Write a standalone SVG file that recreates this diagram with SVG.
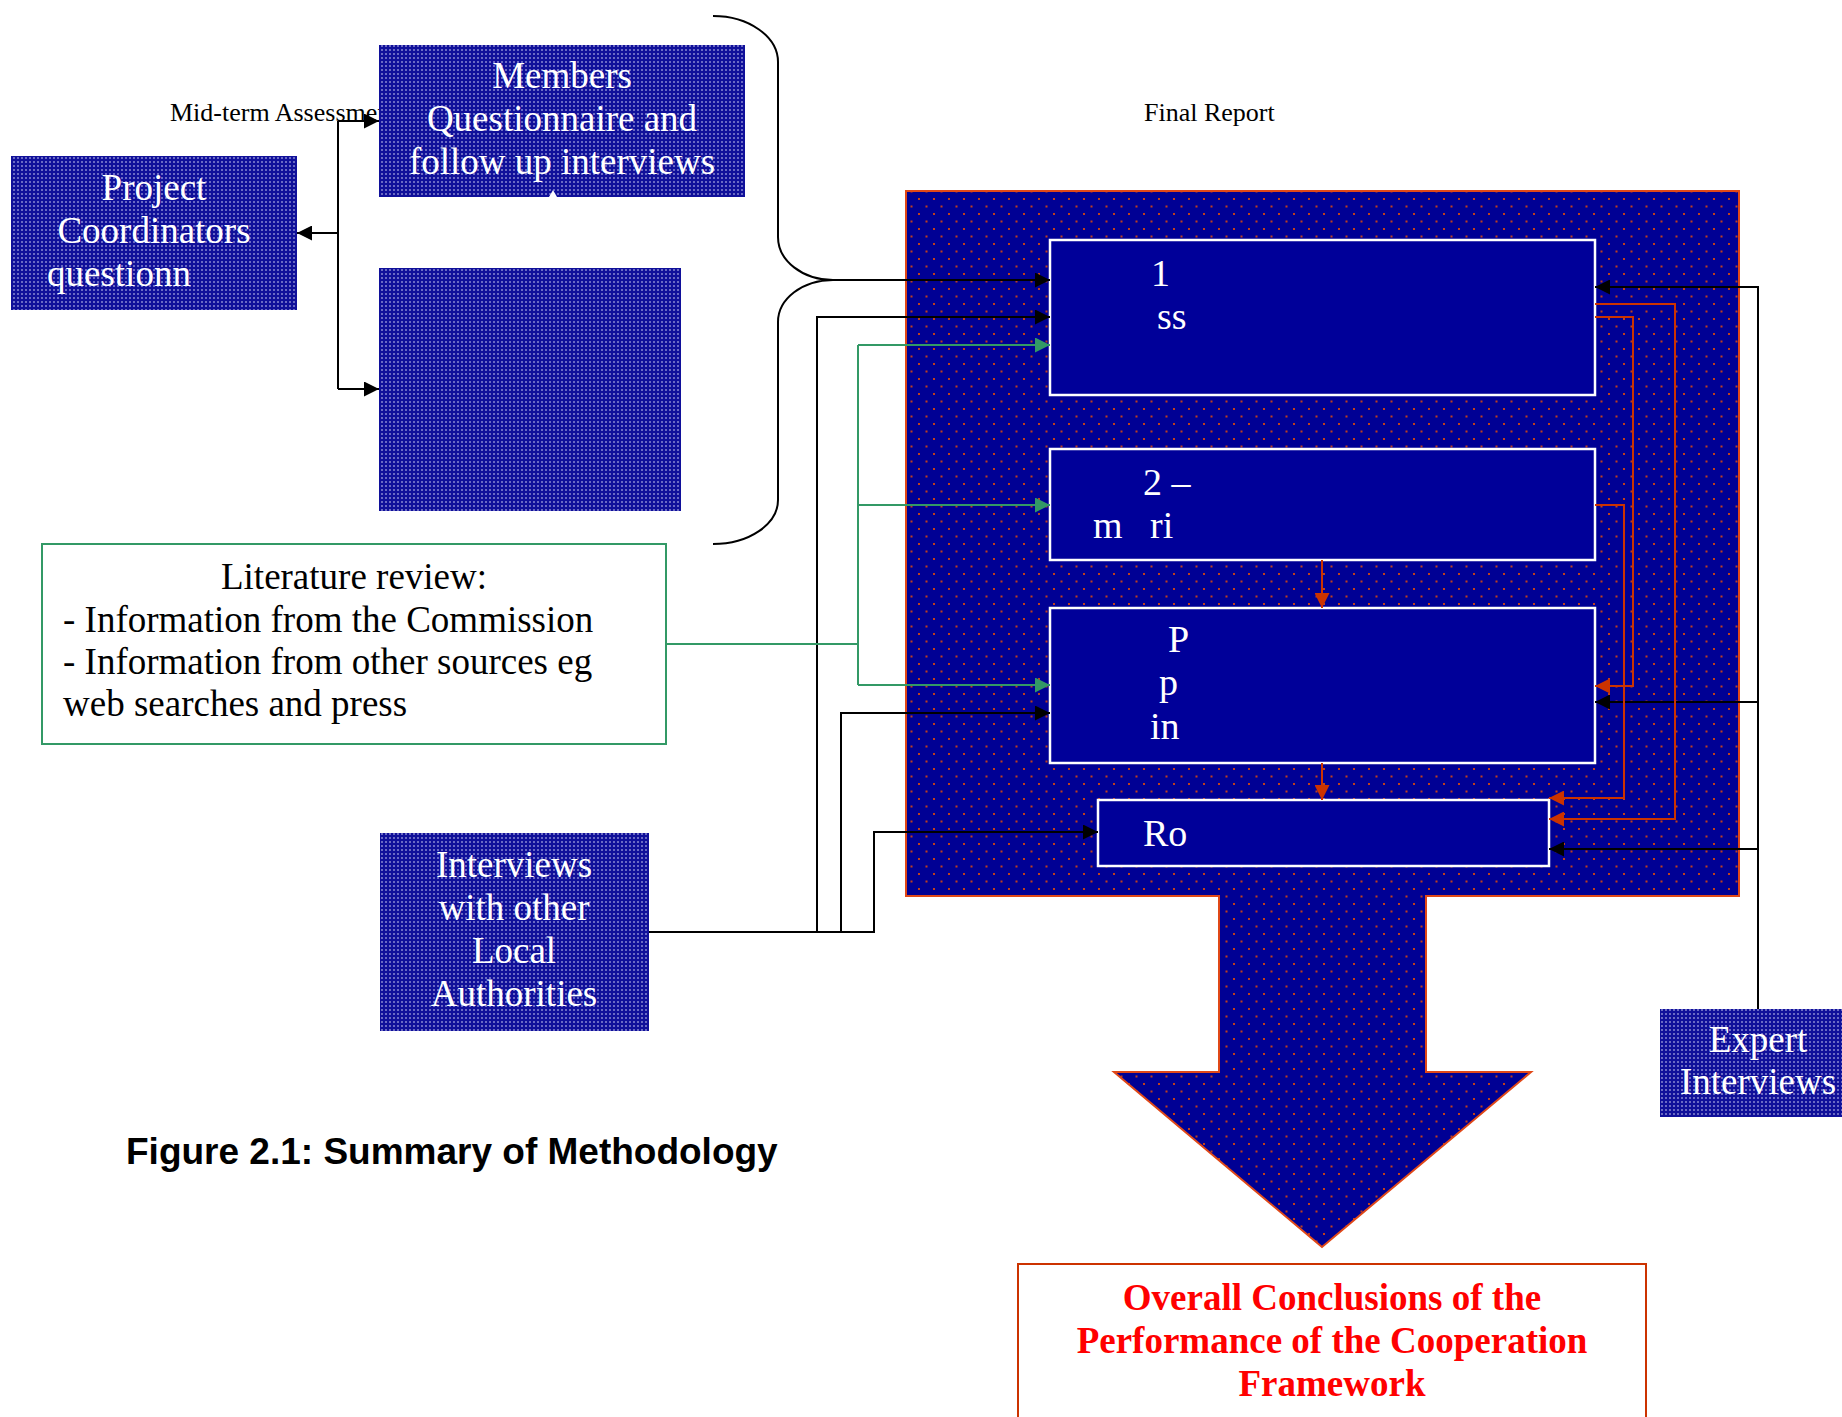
<svg xmlns="http://www.w3.org/2000/svg" width="1842" height="1417" viewBox="0 0 1842 1417">
<style>
.serif{font-family:"Liberation Serif","Times New Roman",serif}
.node{fill:url(#bluedots)}
.nt{font-family:"Liberation Serif","Times New Roman",serif;font-size:37px;fill:#ffffff;text-anchor:middle}
.ntl{font-family:"Liberation Serif","Times New Roman",serif;font-size:37px;fill:#ffffff;text-anchor:start}
.it{font-family:"Liberation Serif","Times New Roman",serif;font-size:38px;fill:#ffffff}
.inner{fill:#000099;stroke:#ffffff;stroke-width:2.5}
.blk{fill:none;stroke:#000000;stroke-width:2}
.grn{fill:none;stroke:#339966;stroke-width:2}
.red{fill:none;stroke:#cc3300;stroke-width:2}
.lbl{font-family:"Liberation Serif","Times New Roman",serif;font-size:26px;fill:#000000}
</style>
<defs>
<pattern id="bluedots" width="4" height="4" patternUnits="userSpaceOnUse">
<rect width="4" height="4" fill="#10109a"/>
<rect x="1" y="1" width="2" height="2" fill="#6a6ac4"/>
</pattern>
<pattern id="reddots" width="15" height="15" patternUnits="userSpaceOnUse">
<rect width="15" height="15" fill="#000094"/>
<rect x="3" y="3" width="2" height="2" fill="#c0401c"/>
<rect x="10.5" y="10.5" width="2" height="2" fill="#c0401c"/>
</pattern>
<marker id="ab" markerWidth="15" markerHeight="15" refX="15" refY="7.5" orient="auto" markerUnits="userSpaceOnUse">
<path d="M0,0 L15,7.5 L0,15 Z" fill="#000000"/>
</marker>
<marker id="ag" markerWidth="15" markerHeight="15" refX="15" refY="7.5" orient="auto" markerUnits="userSpaceOnUse">
<path d="M0,0 L15,7.5 L0,15 Z" fill="#339966"/>
</marker>
<marker id="ar" markerWidth="15" markerHeight="15" refX="15" refY="7.5" orient="auto" markerUnits="userSpaceOnUse">
<path d="M0,0 L15,7.5 L0,15 Z" fill="#cc3300"/>
</marker>
</defs>
<rect width="1842" height="1417" fill="#ffffff"/>

<text class="lbl" x="170" y="121">Mid-term Assessment</text>
<text class="lbl" x="1144" y="121">Final Report</text>

<g id="final-report-area">
<path d="M906,191 H1739 V896 H1426 V1072 H1531 L1322,1247 L1114,1072 H1219 V896 H906 Z" fill="url(#reddots)" stroke="#e04818" stroke-width="2"/>
</g>

<g id="members">
<rect class="node" x="379" y="45" width="366" height="152"/>
<text class="nt" x="562" y="88">Members</text>
<text class="nt" x="562" y="131">Questionnaire and</text>
<text class="nt" x="562" y="174">follow up interviews</text>
<path d="M549,197 L553,190 L557,197 Z" fill="#ffffff"/>
</g>

<g id="project-coordinators">
<rect class="node" x="11" y="156" width="286" height="154"/>
<text class="nt" x="154" y="200">Project</text>
<text class="nt" x="154" y="243">Coordinators</text>
<text class="ntl" x="47" y="286">questionn</text>
</g>

<g id="blank-box">
<rect class="node" x="379" y="268" width="302" height="243"/>
</g>

<g id="literature">
<rect x="42" y="544" width="624" height="200" fill="#ffffff" stroke="#339966" stroke-width="2"/>
<text class="serif" font-size="37" x="354" y="589" text-anchor="middle">Literature review:</text>
<text class="serif" font-size="37" x="63" y="632">- Information from the Commission</text>
<text class="serif" font-size="37" x="63" y="674">- Information from other sources eg</text>
<text class="serif" font-size="37" x="63" y="716">web searches and press</text>
</g>

<g id="interviews-la">
<rect class="node" x="380" y="833" width="269" height="198"/>
<text class="nt" x="514" y="877">Interviews</text>
<text class="nt" x="514" y="920">with other</text>
<text class="nt" x="514" y="963">Local</text>
<text class="nt" x="514" y="1006">Authorities</text>
</g>

<g id="expert">
<rect class="node" x="1660" y="1009" width="200" height="108"/>
<text class="nt" x="1758" y="1052">Expert</text>
<text class="nt" x="1758" y="1094">Interviews</text>
</g>

<g id="box1">
<rect class="inner" x="1050" y="240" width="545" height="155"/>
<text class="it" x="1151" y="286">1</text>
<text class="it" x="1157" y="329">ss</text>
</g>
<g id="box2">
<rect class="inner" x="1050" y="449" width="545" height="111"/>
<text class="it" x="1143" y="495">2 –</text>
<text class="it" x="1093" y="538">m</text>
<text class="it" x="1150" y="538">ri</text>
</g>
<g id="box3">
<rect class="inner" x="1050" y="608" width="545" height="155"/>
<text class="it" x="1168" y="652">P</text>
<text class="it" x="1159" y="695">p</text>
<text class="it" x="1150" y="739">in</text>
</g>
<g id="box-ro">
<rect class="inner" x="1098" y="800" width="451" height="66"/>
<text class="it" x="1143" y="846">Ro</text>
</g>

<g id="conclusions">
<rect x="1018" y="1264" width="628" height="200" fill="#ffffff" stroke="#cc3300" stroke-width="2"/>
<text class="serif" font-size="37" font-weight="bold" fill="#ff0000" text-anchor="middle" x="1332" y="1310">Overall Conclusions of the</text>
<text class="serif" font-size="37" font-weight="bold" fill="#ff0000" text-anchor="middle" x="1332" y="1353">Performance of the Cooperation</text>
<text class="serif" font-size="37" font-weight="bold" fill="#ff0000" text-anchor="middle" x="1332" y="1396">Framework</text>
</g>

<text x="126" y="1164" font-family="'Liberation Sans',Arial,sans-serif" font-size="37" font-weight="bold" fill="#000000">Figure 2.1: Summary of Methodology</text>

<g id="connectors">
<path class="blk" d="M713,16 A65,46 0 0 1 778,62 L778,237 A55,43 0 0 0 833,280 A55,42 0 0 0 778,322 L778,500 A65,44 0 0 1 713,544"/>
<path class="blk" d="M338,121 V389"/>
<path class="blk" d="M338,121 H379" marker-end="url(#ab)"/>
<path class="blk" d="M338,389 H379" marker-end="url(#ab)"/>
<path class="blk" d="M338,233 H297" marker-end="url(#ab)"/>
<path class="blk" d="M833,280 H1050" marker-end="url(#ab)"/>
<path class="blk" d="M649,932 H874 V832 H1098" marker-end="url(#ab)"/>
<path class="blk" d="M817,932 V317 H1050" marker-end="url(#ab)"/>
<path class="blk" d="M841,932 V713 H1050" marker-end="url(#ab)"/>
<path class="blk" d="M1758,1009 V287 H1595" marker-end="url(#ab)"/>
<path class="blk" d="M1758,702 H1595" marker-end="url(#ab)"/>
<path class="blk" d="M1758,849 H1549" marker-end="url(#ab)"/>
<path class="grn" d="M666,644 H858"/>
<path class="grn" d="M858,345 V685"/>
<path class="grn" d="M858,345 H1050" marker-end="url(#ag)"/>
<path class="grn" d="M858,505 H1050" marker-end="url(#ag)"/>
<path class="grn" d="M858,685 H1050" marker-end="url(#ag)"/>
<path class="red" d="M1595,304 H1675 V819 H1549" marker-end="url(#ar)"/>
<path class="red" d="M1595,317 H1633 V686 H1595" marker-end="url(#ar)"/>
<path class="red" d="M1595,505 H1624 V798 H1549" marker-end="url(#ar)"/>
<path class="red" d="M1322,560 V608" marker-end="url(#ar)"/>
<path class="red" d="M1322,763 V800" marker-end="url(#ar)"/>
</g>
</svg>
